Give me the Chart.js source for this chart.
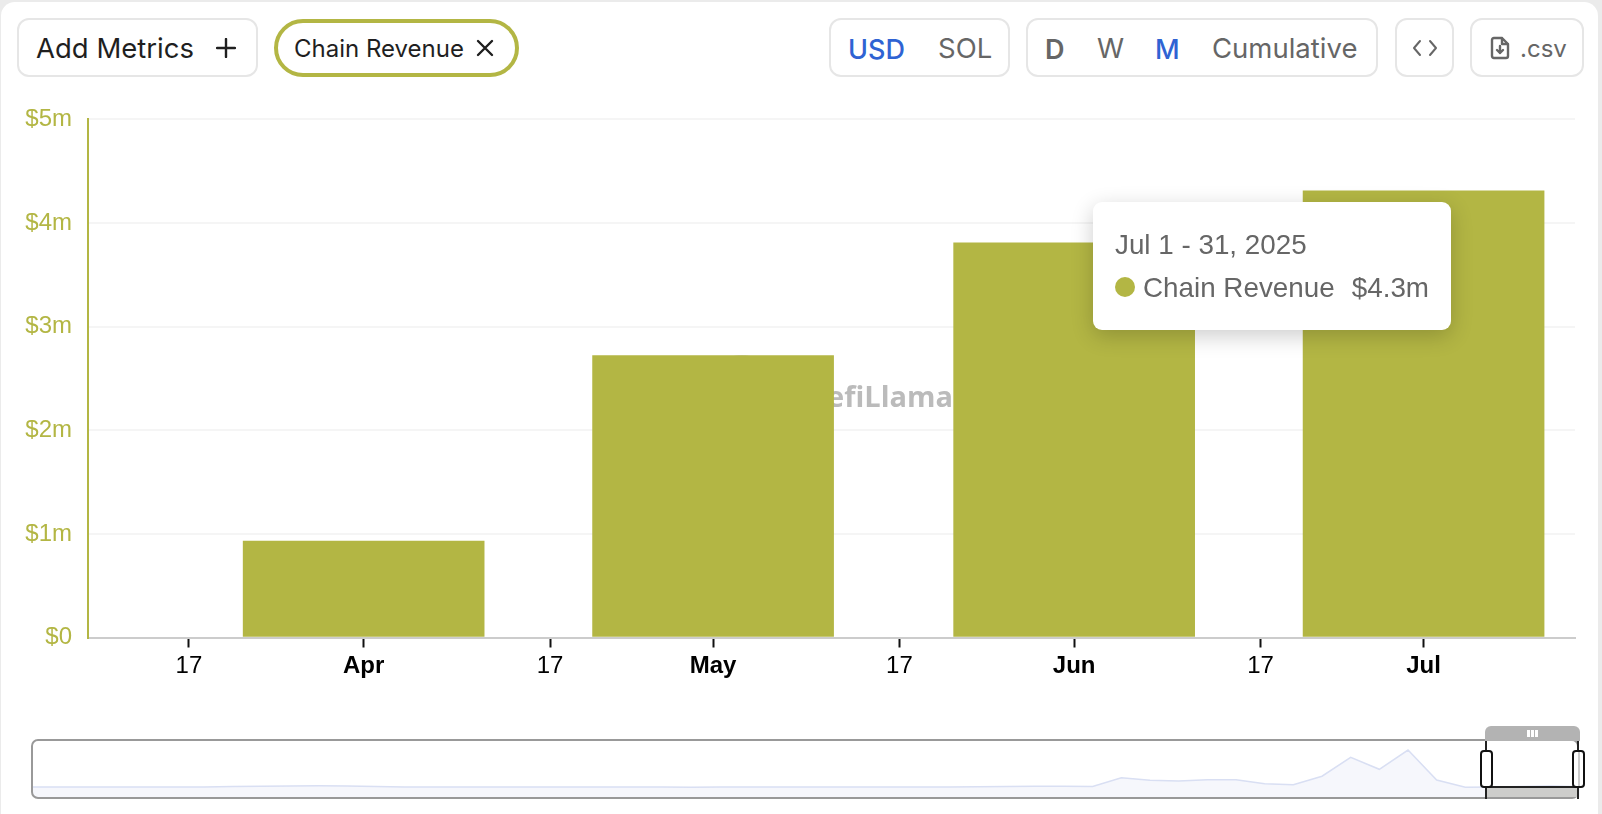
<!DOCTYPE html>
<html>
<head>
<meta charset="utf-8">
<title>Chain Revenue</title>
<script src="https://cdn.jsdelivr.net/npm/chart.js@4"></script>
<style>
  html, body { margin: 0; padding: 0; width: 1602px; height: 814px; overflow: hidden; background: #ebebeb; font-family: Inter, sans-serif; }
  #card { position: absolute; left: 1px; top: 2px; width: 1597px; height: 830px; background: #fff; border-radius: 14px; }
  .btn { position: absolute; box-sizing: border-box; top: 18px; height: 59px; border: 2px solid #e6e6e6; border-radius: 12px; background: #fff; }
  .txt { position: absolute; top: 48.5px; transform: translateY(-50%); white-space: nowrap; color: #666; font-size: 27.5px; line-height: 1; }
  .txt.on { color: #2f63d3; font-weight: 500; font-size: 27px; }
  #chip { position: absolute; box-sizing: border-box; left: 274px; top: 19px; width: 245px; height: 58px; border: 4px solid #b3b644; border-radius: 29px; }
  svg.icon { position: absolute; fill: none; stroke-linecap: round; stroke-linejoin: round; }
  #mainChart { position: absolute; left: 0; top: 89px; }
  #miniChart { position: absolute; left: 32px; top: 741px; }
  #tooltip { position: absolute; box-sizing: border-box; left: 1093px; top: 202px; width: 358px; height: 128px; background: #fff; border-radius: 9px; box-shadow: 0 6px 22px rgba(0,0,0,.2); font-family: "Liberation Sans", sans-serif; font-size: 27.8px; color: #666; }
  #tooltip div { position: absolute; white-space: nowrap; line-height: 1; }
  #frame { position: absolute; box-sizing: border-box; left: 31px; top: 739px; width: 1548px; height: 60px; border: 2px solid #999; border-radius: 7px; }
  .abs { position: absolute; box-sizing: border-box; }
</style>
</head>
<body>
<div id="card"></div>

<div class="btn" style="left:17px;width:241px"></div>
<div class="txt" style="left:36px;color:#1f1f1f;font-size:27.5px">Add Metrics</div>
<svg class="icon" style="left:216px;top:38px" width="20" height="20" stroke="#1f1f1f" stroke-width="2.4"><path d="M10 1V19M1 10H19"/></svg>

<div id="chip"></div>
<div class="txt" id="chipText" style="left:294px;color:#1f1f1f;font-size:24px"></div>
<svg class="icon" style="left:476px;top:39px" width="18" height="18" stroke="#1f1f1f" stroke-width="2.4"><path d="M2 2L16 16M16 2L2 16"/></svg>

<div class="btn" style="left:829px;width:181px"></div>
<div class="txt on" style="left:848px">USD</div>
<div class="txt" style="left:938px">SOL</div>

<div class="btn" style="left:1026px;width:352px"></div>
<div class="txt" style="left:1045px;font-weight:600;font-size:27px">D</div>
<div class="txt" style="left:1097px">W</div>
<div class="txt on" style="left:1155px">M</div>
<div class="txt" style="left:1212px">Cumulative</div>

<div class="btn" style="left:1395px;width:59px"></div>
<svg class="icon" style="left:1412px;top:39px" width="26" height="18" stroke="#666" stroke-width="2"><path d="M8 2L2 9L8 16M18 2L24 9L18 16"/></svg>

<div class="btn" style="left:1470px;width:114px"></div>
<svg class="icon" style="left:1490px;top:36px" width="20" height="24" stroke="#666" stroke-width="2.4"><path d="M4 2H12L18 8V20Q18 22 16 22H4Q2 22 2 20V4Q2 2 4 2ZM12 2V8H18M10 10V17M7 14L10 17L13 14"/></svg>
<div class="txt" style="left:1520px;font-size:24px">.csv</div>

<canvas id="mainChart" width="1602" height="611"></canvas>

<div id="tooltip">
  <div id="tipDate" style="left:22px;top:29px"></div>
  <div style="left:22px;top:75px;width:20px;height:20px;border-radius:50%;background:#b3b644"></div>
  <div id="tipName" style="left:50px;top:72px"></div>
  <div id="tipValue" style="right:22px;top:72px"></div>
</div>

<canvas id="miniChart" width="1548" height="56"></canvas>
<div id="frame"></div>

<!-- selezione dello slider in basso -->
<div class="abs" style="left:1487px;top:787px;width:91px;height:10px;background:#cdcdcb"></div>
<div class="abs" style="left:1486px;top:786px;width:92px;height:2px;background:#222"></div>
<div class="abs" style="left:1485px;top:726px;width:95px;height:15px;background:#b3b3b3;border-radius:6px 6px 0 0"></div>
<div class="abs" style="left:1527px;top:730px;width:3px;height:7px;background:#fff"></div>
<div class="abs" style="left:1531px;top:730px;width:3px;height:7px;background:#fff"></div>
<div class="abs" style="left:1535px;top:730px;width:3px;height:7px;background:#fff"></div>
<div class="abs" style="left:1485px;top:741px;width:2px;height:58px;background:#222"></div>
<div class="abs" style="left:1577px;top:741px;width:2px;height:58px;background:#222"></div>
<div class="abs" style="left:1480px;top:750px;width:13px;height:38px;background:#fff;border:2px solid #111;border-radius:4px"></div>
<div class="abs" style="left:1572px;top:750px;width:13px;height:38px;background:linear-gradient(90deg,#fff 45%,#ccc 45%,#ccc 65%,#fff 65%);border:2px solid #111;border-radius:4px"></div>

<script>
const seriesName = 'Chain Revenue';
const tooltipDate = 'Jul 1 - 31, 2025';
const barDates = ['2025-04-01', '2025-05-01', '2025-06-01', '2025-07-01'];
const revenue = [930000, 2720000, 3810000, 4310000];
const tickDates = ['2025-03-17', '2025-04-01', '2025-04-17', '2025-05-01', '2025-05-17', '2025-06-01', '2025-06-17', '2025-07-01'];
const tickLabels = ['17', 'Apr', '17', 'May', '17', 'Jun', '17', 'Jul'];
const overviewValues = [
  3.9, 3.9, 3.9, 3.9, 3.9, 3.9, 3.9, 4.1, 4.2, 4.3, 4.4, 4.3, 4.1, 3.9, 3.9, 3.9, 3.9, 3.9, 3.9,
  3.9, 3.9, 3.9, 3.9, 3.8, 3.9, 3.9, 3.9, 3.9, 3.9, 3.9, 3.9, 3.9, 3.9, 4.0, 4.1, 4.2, 4.2, 4.1,
  7.5, 6.5, 6.2, 6.7, 6.7, 5.2, 4.8, 8.1, 15.5, 10.8, 18.3, 6.6, 3.8, 3.9, 4.1, 4.3, 4.0
];

const olive = '#b3b644';

function fmtMillions(v) {
  if (v === 0) return '$0';
  return '$' + (v / 1000000) + 'm';
}

document.getElementById('chipText').textContent = seriesName;
document.getElementById('tipDate').textContent = tooltipDate;
document.getElementById('tipName').textContent = seriesName;
document.getElementById('tipValue').textContent = '$' + (Math.round(revenue[3] / 100000) / 10) + 'm';

// Scritta DefiLlama dietro alle barre
const watermark = {
  id: 'watermark',
  beforeDatasetsDraw(chart) {
    const ctx = chart.ctx;
    ctx.save();
    ctx.fillStyle = '#d6d6d6';
    ctx.beginPath();
    ctx.ellipse(742, 275, 19, 9, 0, 0, Math.PI * 2);
    ctx.fill();
    ctx.fillStyle = '#bbbbbb';
    ctx.font = 'bold 29px "Open Sans", sans-serif';
    ctx.textAlign = 'right';
    ctx.textBaseline = 'alphabetic';
    ctx.fillText('DefiLlama', 953, 318);
    ctx.restore();
  }
};

new Chart(document.getElementById('mainChart'), {
  type: 'bar',
  data: {
    datasets: [{
      label: seriesName,
      data: barDates.map((d, i) => ({ x: Date.parse(d), y: revenue[i] })),
      backgroundColor: olive,
      barThickness: 241
    }]
  },
  options: {
    responsive: false,
    animation: false,
    layout: { padding: { left: 0, right: 27, top: 8, bottom: 0 } },
    plugins: { legend: { display: false }, tooltip: { enabled: false } },
    scales: {
      x: {
        type: 'linear',
        offset: false,
        min: Date.UTC(2025, 2, 8, 8),
        max: Date.UTC(2025, 6, 14),
        afterBuildTicks(axis) {
          axis.ticks = tickDates.map(d => ({ value: Date.parse(d) }));
        },
        afterFit(axis) { axis.height = 62.5; },
        border: { color: '#cccccc', width: 2 },
        grid: { offset: false, drawOnChartArea: false, tickColor: '#111111', tickWidth: 2, tickLength: 10 },
        ticks: {
          autoSkip: false,
          maxRotation: 0,
          padding: 4,
          color: '#000000',
          font: ctx => ({
            family: '"Liberation Sans", sans-serif',
            size: 24,
            weight: ctx.index % 2 ? 'bold' : 'normal'
          }),
          callback: (value, index) => tickLabels[index]
        }
      },
      y: {
        min: 0,
        max: 5000000,
        afterFit(axis) { axis.width = 88; },
        border: { color: olive, width: 2 },
        grid: { color: '#f5f5f5', lineWidth: 2, drawTicks: false },
        ticks: {
          stepSize: 1000000,
          padding: 16,
          color: olive,
          font: { family: '"Liberation Sans", sans-serif', size: 24 },
          callback: fmtMillions
        }
      }
    }
  },
  plugins: [watermark]
});

new Chart(document.getElementById('miniChart'), {
  type: 'line',
  data: {
    labels: overviewValues.map((v, i) => i),
    datasets: [{
      data: overviewValues,
      borderColor: '#d9dff3',
      borderWidth: 1.5,
      backgroundColor: '#f6f7fc',
      fill: 'origin',
      pointRadius: 0,
      tension: 0
    }]
  },
  options: {
    responsive: false,
    animation: false,
    plugins: { legend: { display: false }, tooltip: { enabled: false } },
    scales: {
      x: { display: false, offset: false },
      y: { display: false, min: 0, max: 21.84 }
    }
  }
});
</script>
</body>
</html>
